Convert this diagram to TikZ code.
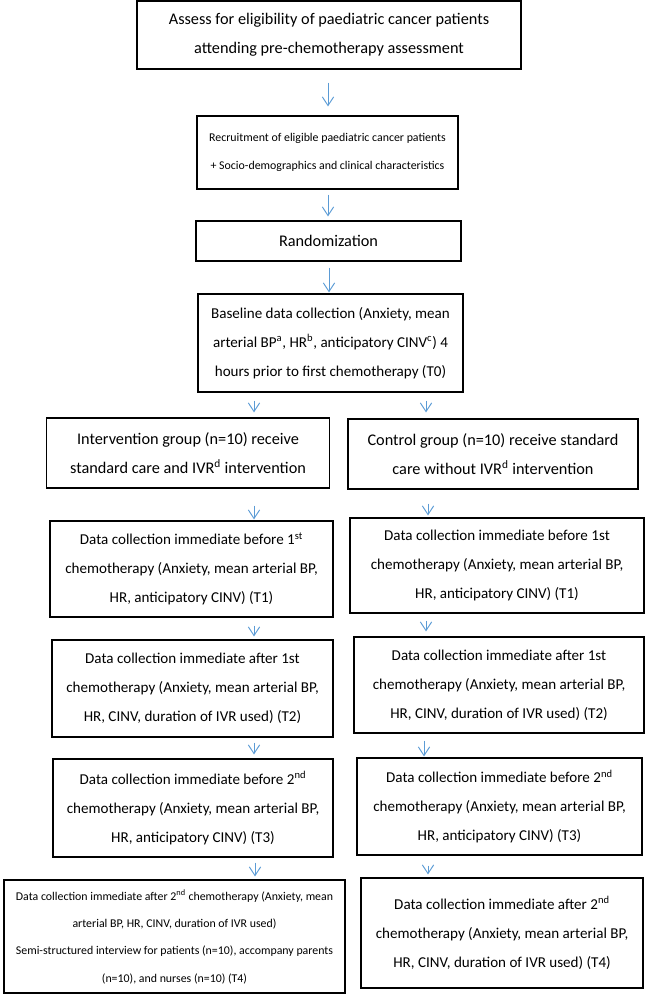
\documentclass[tikz,border=0pt]{standalone}
\usepackage{fontspec}
\setmainfont{Carlito}
\usetikzlibrary{arrows.meta,calc}
\definecolor{arrblue}{RGB}{91,155,213}
\begin{document}
\begin{tikzpicture}[x=0.75pt,y=-0.75pt,
  box/.style={draw=black,line width=0.9pt,inner sep=0pt,align=center,
    font=\fontsize{12.2}{21.5}\selectfont},
  databox/.style={box,font=\fontsize{11.3}{21.8}\selectfont},
  smallbox/.style={box,font=\fontsize{8.9}{20.5}\selectfont},
  arr/.style={draw=arrblue,line width=0.7pt,-{Straight Barb[length=6.5pt,width=8.5pt]}}]
\useasboundingbox (0,0) rectangle (646,994);
\node[smallbox,minimum width=261*0.75pt,minimum height=73*0.75pt] at (327.5,152.5) (b2) {Recruitment of eligible paediatric cancer patients\\+ Socio-demographics and clinical characteristics};
\node[box,minimum width=384*0.75pt,minimum height=68*0.75pt] at (329,35) (b1) {Assess for eligibility of paediatric cancer patients\\attending pre-chemotherapy assessment};
\node[box,minimum width=265*0.75pt,minimum height=40*0.75pt] at (328.5,241) (b3) {Randomization};
\node[databox,minimum width=265*0.75pt,minimum height=98*0.75pt] at (330.5,343) (b4) {Baseline data collection (Anxiety, mean\\arterial BP\textsuperscript{a}, HR\textsuperscript{b}, anticipatory CINV\textsuperscript{c}) 4\\hours prior to first chemotherapy (T0)};
\node[box,minimum width=283*0.75pt,minimum height=70*0.75pt] at (188,453) (bi) {Intervention group (n=10) receive\\standard care and IVR\textsuperscript{d} intervention};
\node[box,minimum width=290*0.75pt,minimum height=70*0.75pt] at (493,454) (bc) {Control group (n=10) receive standard\\care without IVR\textsuperscript{d} intervention};
\node[databox,minimum width=283*0.75pt,minimum height=96*0.75pt] at (191.5,569) (l1) {Data collection immediate before 1\textsuperscript{st}\\chemotherapy (Anxiety, mean arterial BP,\\HR, anticipatory CINV) (T1)};
\node[databox,minimum width=294*0.75pt,minimum height=95*0.75pt] at (497,565.5) (r1) {Data collection immediate before 1st\\chemotherapy (Anxiety, mean arterial BP,\\HR, anticipatory CINV) (T1)};
\node[databox,minimum width=281*0.75pt,minimum height=97*0.75pt] at (192.5,688.5) (l2) {Data collection immediate after 1st\\chemotherapy (Anxiety, mean arterial BP,\\HR, CINV, duration of IVR used) (T2)};
\node[databox,minimum width=290*0.75pt,minimum height=96*0.75pt] at (499,685) (r2) {Data collection immediate after 1st\\chemotherapy (Anxiety, mean arterial BP,\\HR, CINV, duration of IVR used) (T2)};
\node[databox,minimum width=280*0.75pt,minimum height=98*0.75pt] at (193,808) (l3) {Data collection immediate before 2\textsuperscript{nd}\\chemotherapy (Anxiety, mean arterial BP,\\HR, anticipatory CINV) (T3)};
\node[databox,minimum width=285*0.75pt,minimum height=97*0.75pt] at (499.5,806.5) (r3) {Data collection immediate before 2\textsuperscript{nd}\\chemotherapy (Anxiety, mean arterial BP,\\HR, anticipatory CINV) (T3)};
\node[smallbox,minimum width=341*0.75pt,minimum height=113*0.75pt] at (174.5,936.5) (l4) {Data collection immediate after 2\textsuperscript{nd} chemotherapy (Anxiety, mean\\arterial BP, HR, CINV, duration of IVR used)\\Semi-structured interview for patients (n=10), accompany parents\\(n=10), and nurses (n=10) (T4)};
\node[databox,minimum width=282*0.75pt,minimum height=110*0.75pt] at (502,933) (r4) {Data collection immediate after 2\textsuperscript{nd}\\chemotherapy (Anxiety, mean arterial BP,\\HR, CINV, duration of IVR used) (T4)};
% arrows
\draw[arr] ($(b1.south)+(-1,13)$) -- ($(b2.north)+(0.5,-9)$);
\draw[arr] ($(b2.south)+(0.5,5)$) -- ($(b3.north)+(-0.5,-4)$);
\draw[arr] ($(b3.south)+(0.5,6)$) -- ($(b4.north)+(-1.5,-1)$);
\draw[arr] ($(b4.south)+(-76.5,8)$) -- ($(bi.north)+(66,-5)$);
\draw[arr] ($(b4.south)+(95.5,8)$) -- ($(bc.north)+(-67,-6)$);
\draw[arr] ($(bi.south)+(66,17)$) -- ($(l1.north)+(62.5,-1)$);
\draw[arr] ($(bc.south)+(-65,14)$) -- ($(r1.north)+(-69,-2)$);
\draw[arr] ($(l1.south)+(62.5,8)$) -- ($(l2.north)+(61.5,-3)$);
\draw[arr] ($(r1.south)+(-71,7)$) -- ($(r2.north)+(-73,-5)$);
\draw[arr] ($(l2.south)+(61.5,5)$) -- ($(l3.north)+(61,-4)$);
\draw[arr] ($(r2.south)+(-75,7)$) -- ($(r3.north)+(-75.5,-1)$);
\draw[arr] ($(l3.south)+(62,5)$) -- ($(l4.north)+(80.5,-3)$);
\draw[arr] ($(r3.south)+(-71.5,10)$) -- ($(r4.north)+(-74,-3)$);
\end{tikzpicture}
\end{document}
